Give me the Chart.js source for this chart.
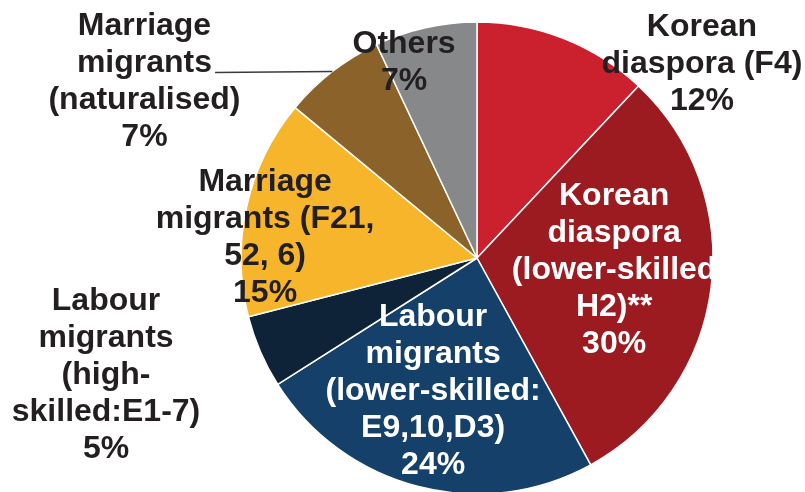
<!DOCTYPE html>
<html>
<head>
<meta charset="utf-8">
<script src="https://cdn.jsdelivr.net/npm/chart.js@4/dist/chart.umd.min.js"></script>
<style>
  html, body { margin: 0; padding: 0; background: #ffffff; }
  #wrap { width: 805px; height: 492px; position: relative; overflow: hidden; }
</style>
</head>
<body>
<div id="wrap"><canvas id="pie" width="805" height="492"></canvas></div>
<script>
// Categories (label lines as printed), shares in percent, slice colours
const categoryLines = [
  ["Korean", "diaspora (F4)"],
  ["Korean", "diaspora", "(lower-skilled", "H2)**"],
  ["Labour", "migrants", "(lower-skilled:", "E9,10,D3)"],
  ["Labour", "migrants", "(high-", "skilled:E1-7)"],
  ["Marriage", "migrants (F21,", "52, 6)"],
  ["Marriage", "migrants", "(naturalised)"],
  ["Others"]
];
const shares = [12, 30, 24, 5, 15, 7, 7];
const sliceColors = ["#CB202D", "#9B1B21", "#14406A", "#0E2238", "#F6B52A", "#8B6229", "#87888A"];

// Label placement, relative to the pie centre in units of its radius
const labelOffsetX = [0.953, 0.581, -0.186, -1.572, -0.898, -1.409, -0.309];
const labelOffsetY = [-0.822, 0.051, 0.564, 0.496, -0.085, -0.746, -0.828];
const labelColors = ["#231F20", "#FFFFFF", "#FFFFFF", "#231F20", "#231F20", "#231F20", "#231F20"];
const leaderLineFor = [5];          // slices whose label is joined to the pie by a line
const leaderStartX = -1.11;        // where that line starts, in radius units from centre

const categories = categoryLines.map(l => l.join(" "));

const sliceLabels = {
  id: "sliceLabels",
  afterDatasetsDraw(chart) {
    const ctx = chart.ctx;
    const arcs = chart.getDatasetMeta(0).data;
    const lineH = 37;
    ctx.save();
    // leader lines
    leaderLineFor.forEach(i => {
      const p = arcs[i].getProps(["x", "y", "startAngle", "endAngle", "outerRadius"], true);
      const mid = (p.startAngle + p.endAngle) / 2;
      const ex = p.x + p.outerRadius * Math.cos(mid);
      const ey = p.y + p.outerRadius * Math.sin(mid);
      ctx.beginPath();
      ctx.strokeStyle = "#3a3a3a";
      ctx.lineWidth = 1.4;
      ctx.moveTo(p.x + leaderStartX * p.outerRadius, ey + 1);
      ctx.lineTo(ex, ey);
      ctx.stroke();
    });
    // text blocks
    ctx.font = "bold 32px 'Liberation Sans', Arial, sans-serif";
    ctx.textAlign = "center";
    ctx.textBaseline = "middle";
    arcs.forEach((arc, i) => {
      const p = arc.getProps(["x", "y", "outerRadius"], true);
      const cx = p.x + labelOffsetX[i] * p.outerRadius;
      const cy = p.y + labelOffsetY[i] * p.outerRadius;
      const lines = categoryLines[i].concat([shares[i] + "%"]);
      ctx.fillStyle = labelColors[i];
      lines.forEach((t, k) => {
        ctx.fillText(t, cx, cy + (k - (lines.length - 1) / 2) * lineH);
      });
    });
    ctx.restore();
  }
};

new Chart(document.getElementById("pie"), {
  type: "pie",
  data: {
    labels: categories,
    datasets: [{
      data: shares,
      backgroundColor: sliceColors,
      borderColor: "#FFFFFF",
      borderWidth: 1.5,
      clip: false
    }]
  },
  options: {
    responsive: false,
    animation: false,
    devicePixelRatio: 1,
    radius: 236,
    layout: { padding: { left: 149, right: 0, top: 24, bottom: 0 } },
    plugins: {
      legend: { display: false },
      tooltip: { enabled: false }
    }
  },
  plugins: [sliceLabels]
});
</script>
</body>
</html>
